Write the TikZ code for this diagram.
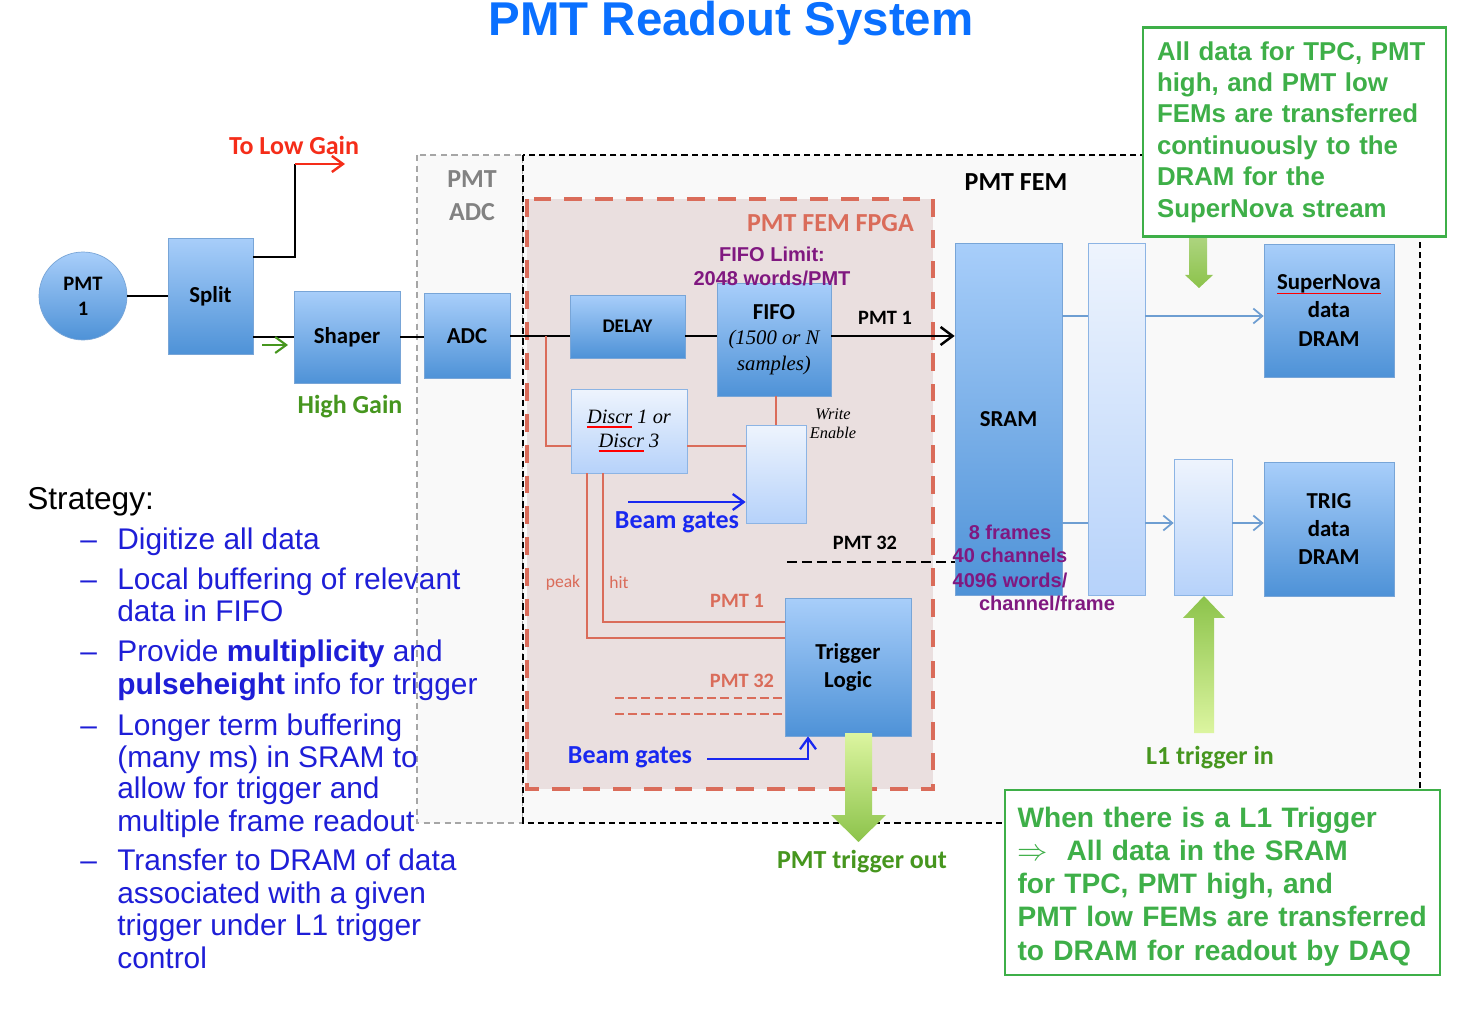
\documentclass[tikz,border=0pt]{standalone}
\usepackage{fontspec}
\setmainfont{Liberation Sans}
\newfontfamily\gill{Carlito}
\newfontfamily\tms{Liberation Serif}
\usetikzlibrary{arrows.meta,positioning}
\definecolor{titleblue}{RGB}{10,112,255}
\definecolor{stratblue}{RGB}{30,30,215}
\definecolor{boxtop}{RGB}{168,206,250}
\definecolor{boxbot}{RGB}{78,146,215}
\definecolor{boxline}{RGB}{120,165,215}
\definecolor{paletop}{RGB}{238,244,253}
\definecolor{palebot}{RGB}{182,210,250}
\definecolor{paleline}{RGB}{140,180,228}
\definecolor{fpgared}{RGB}{218,108,90}
\definecolor{fpgafill}{RGB}{234,223,223}
\definecolor{femfill}{RGB}{249,249,249}
\definecolor{lowred}{RGB}{245,45,25}
\definecolor{hgreen}{RGB}{70,150,30}
\definecolor{notegreen}{RGB}{62,175,72}
\definecolor{fifopurple}{RGB}{128,24,128}
\definecolor{linkblue}{RGB}{110,158,210}
\definecolor{beamblue}{RGB}{25,40,240}
\definecolor{arrowdark}{RGB}{140,195,75}
\definecolor{arrowlight}{RGB}{220,245,160}
\definecolor{adcgray}{RGB}{130,130,130}
\newsavebox{\wavybox}
\newcommand{\wavy}[1]{\sbox{\wavybox}{#1}\rlap{\color{red}\rule[-2.5pt]{\wd\wavybox}{0.9pt}}#1}

\begin{document}
\begin{tikzpicture}[x=0.02cm, y=-0.02cm,
  blockbox/.style={draw=boxline, top color=boxtop, bottom color=boxbot, inner sep=0pt, align=center, font=\gill\bfseries\fontsize{13}{16}\selectfont},
  palebox/.style={draw=paleline, top color=paletop, bottom color=palebot, inner sep=0pt, align=center},
  gainlbl/.style={font=\gill\bfseries\fontsize{14.8}{18.8}\selectfont, align=center},
  sublbl/.style={font=\gill\bfseries\fontsize{11.6}{14}\selectfont},
  itl/.style={font=\tms\itshape\fontsize{11.6}{13.7}\selectfont},
  purp/.style={font=\bfseries\fontsize{11.4}{13.7}\selectfont, text=fifopurple, align=center},
  wire/.style={line width=1.4pt},
  rwire/.style={draw=fpgared, line width=1.2pt},
  lwire/.style={draw=linkblue, line width=1pt},
  barb/.style={-{Straight Barb[length=2.2mm, width=3.2mm]}},
  strat/.style={font=\fontsize{17}{18.5}\selectfont, text=stratblue, inner sep=0pt},
  notebox/.style={draw=notegreen, line width=1.2pt, fill=white, text=notegreen, align=left}]
\fill[white] (0,0) rectangle (1482,1030);
\useasboundingbox (0,0) rectangle (1482,1030);
% Title
\node[font=\bfseries\fontsize{27}{30}\selectfont, text=titleblue, anchor=base] (title) at (731,36) {PMT Readout System};
% Crates
\draw[gray!70, line width=1.5pt, dash pattern=on 3.5pt off 2.5pt, fill=femfill] (417,155) rectangle (523,823);
\draw[line width=1.6pt, dash pattern=on 3.5pt off 2.3pt, fill=femfill] (523,155) rectangle (1420,823);
\draw[fpgared, line width=2.3pt, dash pattern=on 10pt off 7.5pt, fill=fpgafill] (527,199) rectangle (933,789);
\node[gainlbl, text=adcgray] (adclbl) at (472,196) {PMT\\ADC};
\node[gainlbl] (femlbl) at (1016,182) {PMT FEM};
\node[gainlbl, text=fpgared, anchor=east] (fpgalbl) at (920,223) {PMT FEM FPGA};
% Front end
\node[blockbox, circle, minimum size=1.76cm, font=\gill\bfseries\fontsize{11.7}{14.2}\selectfont] (pmt) at (83,296) {PMT\\1};
\node[blockbox, minimum width=1.7cm, minimum height=2.32cm] (split) at (210.5,296) {Split};
\node[blockbox, minimum width=2.12cm, minimum height=1.84cm] (shaper) at (347,337) {Shaper};
\node[blockbox, minimum width=1.72cm, minimum height=1.7cm] (adc) at (467,336) {ADC};
\node[gainlbl, text=lowred] (lowlbl) at (294,145) {To Low Gain};
\node[gainlbl, text=hgreen] (highlbl) at (350,407) {High Gain};
% FPGA
\node[blockbox, minimum width=2.3cm, minimum height=1.26cm, font=\gill\bfseries\fontsize{11}{13}\selectfont] (delay) at (627.5,326.5) {DELAY};
\node[blockbox, minimum width=2.28cm, minimum height=2.26cm, font=\gill\bfseries\fontsize{13}{14.6}\selectfont] (fifo) at (774,339.5)
  {FIFO\\{\tms\mdseries\itshape\fontsize{11.8}{14.6}\selectfont (1500 or N}\\{\tms\mdseries\itshape\fontsize{11.8}{14.6}\selectfont samples)}};
\node[purp] (fifolim) at (772,266) {FIFO Limit:\\2048 words/PMT};
\node[palebox, minimum width=2.32cm, minimum height=1.68cm, itl] (discr) at (629,431) {\wavy{Discr} 1 or\\\wavy{Discr} 3};
\node[palebox, minimum width=1.2cm, minimum height=1.96cm] (wen) at (776,474) {};
\node[itl, align=center, font=\tms\itshape\fontsize{9.3}{11}\selectfont] (welbl) at (833,424) {Write\\Enable};
\node[blockbox, minimum width=2.52cm, minimum height=2.76cm] (trig) at (848,667) {Trigger\\Logic};
\node[sublbl] (pmt1lbl) at (885,318) {PMT 1};
\node[sublbl] (pmt32lbl) at (865,543) {PMT 32};
\node[gainlbl, text=beamblue] (beam1) at (677,522) {Beam gates};
\node[gainlbl, text=beamblue] (beam2) at (630,757) {Beam gates};
\node[font=\gill\fontsize{10}{12}\selectfont, text=fpgared] (peaklbl) at (563,583) {peak};
\node[font=\gill\fontsize{10}{12}\selectfont, text=fpgared] (hitlbl) at (619,582) {hit};
\node[sublbl, text=fpgared] (rpmt1) at (737,601) {PMT 1};
\node[sublbl, text=fpgared] (rpmt32) at (742,681) {PMT 32};
% Memories
\node[blockbox, minimum width=2.14cm, minimum height=7.04cm] (sram) at (1008.5,419) {SRAM};
\node[palebox, minimum width=1.14cm, minimum height=7.04cm] (buf) at (1116.5,419) {};
\node[blockbox, minimum width=2.6cm, minimum height=2.66cm] (sndram) at (1329,310.5) {\wavy{SuperNova}\\data\\DRAM};
\node[palebox, minimum width=1.16cm, minimum height=2.72cm] (l1buf) at (1203,527) {};
\node[blockbox, minimum width=2.6cm, minimum height=2.68cm] (trigdram) at (1329,529) {TRIG\\data\\DRAM};
\node[purp] (frames) at (1010,532) {8 frames};
\node[purp] (chans) at (1010,555) {40 channels};
\node[purp] (words) at (1010,580) {4096 words/};
\node[purp] (perch) at (1047,603) {channel/frame};
% Wires
\coordinate (lowturn) at (295,164);
\coordinate (lowgain) at (345,164);
\draw[wire] (pmt) -- (split);
\draw[wire] (split.east |- 0,257) -| (lowturn);
\draw[wire, lowred, barb] (lowturn) -- (lowgain);
\draw[wire] (split.east |- shaper) -- (shaper);
\coordinate (hg0) at (262,345);
\coordinate (hg1) at (288,345);
\draw[hgreen, line width=1.2pt, barb] (hg0) -- (hg1);
\draw[wire] (shaper.east) -- (shaper.east -| adc.west);
\draw[wire] (adc.east) -- (adc.east -| delay.west);
\draw[wire] (delay.east |- adc) -- (fifo.west |- adc);
\draw[wire, -{Straight Barb[length=2.4mm, width=3.6mm]}] (fifo.east |- adc) -- (sram.west |- adc);
\coordinate (tap) at (546,336);
\draw[rwire] (tap) |- (discr.west |- 0,446);
\draw[rwire] (discr.east |- 0,446) -- (wen.west |- 0,446);
\draw[rwire] (fifo.south -| wen) -- (wen.north);
\draw[rwire] (discr.south -| 587,0) |- (trig.west |- 0,638);
\draw[rwire] (discr.south -| 603,0) |- (trig.west |- 0,622);
\coordinate (pa) at (615,698);
\coordinate (pb) at (615,714);
\draw[rwire, dash pattern=on 5pt off 2.5pt] (pa) -- (trig.west |- pa);
\draw[rwire, dash pattern=on 5pt off 2.5pt] (pb) -- (trig.west |- pb);
\coordinate (p32) at (787,562);
\draw[wire, dash pattern=on 5.5pt off 3pt] (p32) -- (sram.west |- p32);
\coordinate (bg1) at (628,502);
\coordinate (bg2) at (707,759);
\draw[beamblue, line width=1.3pt, barb] (bg1) -- (wen.west |- bg1);
\draw[beamblue, line width=1.3pt, barb] (bg2) -| (trig.south -| 808,0);
\draw[lwire] (sram.east |- 0,316) -- (buf.west |- 0,316);
\draw[lwire, -{Straight Barb[length=1.8mm, width=3mm]}] (buf.east |- 0,316) -- (sndram.west |- 0,316);
\draw[lwire] (sram.east |- 0,523) -- (buf.west |- 0,523);
\draw[lwire, -{Straight Barb[length=1.8mm, width=3mm]}] (buf.east |- 0,523) -- (l1buf.west |- 0,523);
\draw[lwire, -{Straight Barb[length=1.8mm, width=3mm]}] (l1buf.east |- 0,523) -- (trigdram.west |- 0,523);
% Fat arrows
\shade[top color=arrowlight, bottom color=arrowdark] (845,733) -- (872,733) -- (872,815) -- (886,815) -- (858.5,842) -- (831,815) -- (845,815) -- cycle;
\shade[top color=arrowdark, bottom color=arrowlight] (1194,733) -- (1194,618) -- (1183,618) -- (1204,596) -- (1225,618) -- (1214,618) -- (1214,733) -- cycle;
\shade[top color=arrowdark!70, bottom color=arrowdark] (1189,235) -- (1207,235) -- (1207,275) -- (1213,275) -- (1199,288) -- (1185,275) -- (1189,275) -- cycle;
\node[gainlbl, text=hgreen] (toutlbl) at (862,862) {PMT trigger out};
\node[gainlbl, text=hgreen] (l1lbl) at (1210,758) {L1 trigger in};
% Notes
\node[notebox, minimum width=6.06cm, minimum height=4.18cm, text width=5.5cm, inner xsep=0.28cm, font=\bfseries\fontsize{14.7}{17.9}\selectfont] (snnote) at (1294.5,132)
  {All data for TPC, PMT\\high, and PMT low\\FEMs are transferred\\continuously to the\\DRAM for the\\SuperNova stream};
\node[notebox, minimum width=8.7cm, minimum height=3.7cm, text width=8.2cm, inner xsep=0.25cm, font=\bfseries\fontsize{16}{18.9}\selectfont] (l1note) at (1222.5,882.5)
  {\rule{0pt}{16pt}When there is a L1 Trigger\\$\Rightarrow$~~All data in the SRAM\\for TPC, PMT high, and\\PMT low FEMs are transferred\\to DRAM for readout by DAQ};
% Strategy
\node[font=\fontsize{18}{20}\selectfont, inner sep=0pt, anchor=base west] (strategy) at (27,510) {Strategy:};
\foreach \yy in {550,590,662,735,870}
  \node[strat, anchor=base west] (dash-\yy) at (80,\yy) {--};
\foreach \yy/\txt in {550/Digitize all data, 590/Local buffering of relevant, 622/data in FIFO,
    662/Provide \textbf{multiplicity} and, 694/\textbf{pulseheight} info for trigger,
    735/Longer term buffering, 767/(many ms) in SRAM to, 798/allow for trigger and,
    831/multiple frame readout, 870/Transfer to DRAM of data, 903/associated with a given,
    935/trigger under L1 trigger, 968/control}
  \node[strat, anchor=base west] (line-\yy) at (117,\yy) {\txt};
\end{tikzpicture}
\end{document}
